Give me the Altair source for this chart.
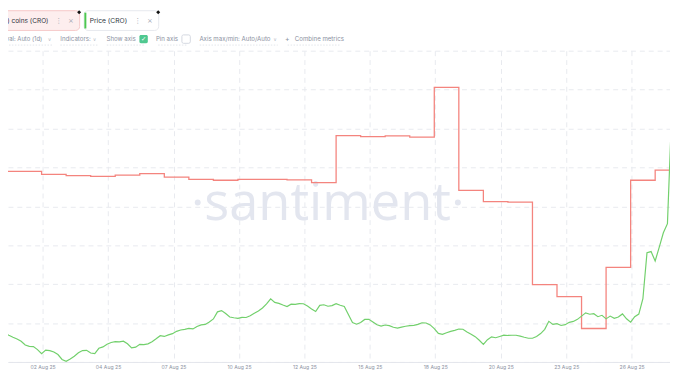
import altair as alt
import pandas as pd

# ---------------- data ----------------
# Price (CRO), 4-hourly samples starting 2025-07-31 08:00 UTC
PRICE_START = "2025-07-31 08:00"
price_cro = [
    0.1315, 0.1292, 0.1270, 0.1250, 0.1232, 0.1210, 0.1172, 0.1158, 0.1155, 0.1125,
    0.1084, 0.1120, 0.1115, 0.1100, 0.1075, 0.1025, 0.1007, 0.1030, 0.1058, 0.1092,
    0.1115, 0.1118, 0.1090, 0.1084, 0.1138, 0.1152, 0.1180, 0.1197, 0.1205, 0.1204,
    0.1210, 0.1184, 0.1142, 0.1150, 0.1178, 0.1175, 0.1183, 0.1204, 0.1234, 0.1266,
    0.1258, 0.1274, 0.1286, 0.1310, 0.1323, 0.1330, 0.1339, 0.1334, 0.1359, 0.1375,
    0.1380, 0.1405, 0.1435, 0.1507, 0.1520, 0.1490, 0.1455, 0.1447, 0.1441, 0.1451,
    0.1450, 0.1468, 0.1492, 0.1516, 0.1546, 0.1587, 0.1638, 0.1603, 0.1593, 0.1576,
    0.1561, 0.1585, 0.1583, 0.1590, 0.1589, 0.1566, 0.1537, 0.1510, 0.1573, 0.1579,
    0.1564, 0.1570, 0.1590, 0.1574, 0.1561, 0.1480, 0.1398, 0.1382, 0.1400, 0.1430,
    0.1431, 0.1405, 0.1376, 0.1362, 0.1374, 0.1368, 0.1351, 0.1342, 0.1353, 0.1361,
    0.1367, 0.1370, 0.1380, 0.1396, 0.1394, 0.1375, 0.1337, 0.1289, 0.1280, 0.1296,
    0.1310, 0.1320, 0.1333, 0.1331, 0.1304, 0.1281, 0.1256, 0.1220, 0.1178, 0.1225,
    0.1254, 0.1245, 0.1258, 0.1271, 0.1268, 0.1270, 0.1270, 0.1261, 0.1250, 0.1240,
    0.1240, 0.1258, 0.1287, 0.1330, 0.1411, 0.1380, 0.1388, 0.1369, 0.1377, 0.1401,
    0.1410, 0.1431, 0.1464, 0.1497, 0.1483, 0.1488, 0.1458, 0.1472, 0.1436, 0.1464,
    0.1442, 0.1455, 0.1486, 0.1437, 0.1402, 0.1458, 0.1484, 0.1640, 0.2105, 0.2117,
    0.2022, 0.2162, 0.2307, 0.2400, 0.3490,
]

# Holders metric (coins), daily from 2025-07-31
HOLD_START = "2025-07-31"
holder_coins = [
    4.90, 4.90, 4.82, 4.79, 4.77, 4.80, 4.84, 4.75, 4.69, 4.67,
    4.69, 4.69, 4.68, 4.61, 5.82, 5.79, 5.81, 5.78, 7.06, 4.41,
    4.12, 4.11, 1.99, 1.68, 0.86, 2.43, 4.67, 4.93, 4.93,
]

# x-axis tick times (UTC); labels are formatted "%d %b %y"
tick_times = [
    "2025-08-02 01:00", "2025-08-04 17:00", "2025-08-07 09:00", "2025-08-10 01:00",
    "2025-08-12 17:00", "2025-08-15 09:00", "2025-08-18 01:00", "2025-08-20 17:00",
    "2025-08-23 09:00", "2025-08-26 01:00",
]
x_range = ["2025-07-31 15:09", "2025-08-27 14:30"]


def ms(ts):
    return int(pd.Timestamp(ts).value // 10**6)


price_df = pd.DataFrame({
    "t": (pd.date_range(PRICE_START, periods=len(price_cro), freq="4h").asi8 // 10**6).tolist(),
    "price": price_cro,
})
hold_df = pd.DataFrame({
    "t": (pd.date_range(HOLD_START, periods=len(holder_coins), freq="D").asi8 // 10**6).tolist(),
    "coins": holder_coins,
})

RED = "#f4847e"
GREEN = "#72d06c"
UI_FONT = "Inter"

x_scale = alt.Scale(type="utc", domain=[ms(v) for v in x_range], nice=False)
x_axis = alt.Axis(
    values=[ms(v) for v in tick_times],
    labelExpr="utcFormat(datum.value, '%d %b %y')",
    title=None,
    ticks=False,
    grid=True,
    gridDash=[5, 4],
    gridColor="#e8eaef",
    domainColor="#e4e6ec",
    labelColor="#8e94a3",
    labelFontSize=5.2,
    labelFont=UI_FONT,
    labelPadding=3,
)

one = pd.DataFrame({"_": [0]})


def txt(s, x, y, size, color, align="left", font=UI_FONT, baseline="middle", weight="normal"):
    return alt.Chart(one).mark_text(
        text=s, align=align, baseline=baseline, fontSize=size, color=color,
        font=font, fontWeight=weight,
    ).encode(x=alt.value(x), y=alt.value(y))


def box(x1, x2, y1, y2, fill, stroke=None, radius=0, sw=1):
    kw = dict(fill=fill, cornerRadius=radius)
    if stroke:
        kw.update(stroke=stroke, strokeWidth=sw)
    return alt.Chart(one).mark_rect(**kw).encode(
        x=alt.value(x1), x2=alt.value(x2), y=alt.value(y1), y2=alt.value(y2)
    )


def dotted(x1, x2, y):
    return alt.Chart(one).mark_rule(color="#dcdfe6", strokeDash=[1.5, 1.5], strokeWidth=0.8).encode(
        x=alt.value(x1), x2=alt.value(x2), y=alt.value(y)
    )


def dot(x, y, size, color, shape="circle"):
    return alt.Chart(one).mark_point(filled=True, size=size, color=color, shape=shape, opacity=1).encode(
        x=alt.value(x), y=alt.value(y)
    )


WM = "#e3e6ef"
watermark = [
    txt("santiment", 323.5, 171, 53, WM, align="center", font="Open Sans", baseline="alphabetic"),
    dot(192, 153.7, 36, WM),
    dot(455.3, 153.7, 36, WM),
]

red_line = alt.Chart(hold_df).mark_line(
    interpolate="step-after", color=RED, strokeWidth=1.3, clip=True
).encode(
    x=alt.X("t:T", scale=x_scale, axis=x_axis),
    y=alt.Y(
        "coins:Q",
        scale=alt.Scale(domain=[0, 8], nice=False, zero=False),
        axis=alt.Axis(
            values=list(range(9)), grid=True, labels=False, ticks=False, domain=False,
            title=None, gridDash=[5, 4], gridColor="#e8eaef",
        ),
    ),
)

green_line = alt.Chart(price_df).mark_line(color=GREEN, strokeWidth=1.2, clip=True).encode(
    x=alt.X("t:T", scale=x_scale, axis=x_axis),
    y=alt.Y("price:Q", scale=alt.Scale(domain=[0.1, 0.415], nice=False, zero=False), axis=None),
)

DARK = "#2f3542"
MUTED = "#a3a8b4"
ROW2 = "#8b91a1"
header = [
    # chip 1 (holders metric)
    box(-20, 72.5, -40.5, -20.5, "#fdeeee", "#f6c9c9", 4),
    txt("(100) coins (CRO)", 41, -30.5, 6.6, DARK, align="right"),
    txt("⋮", 51.3, -30.5, 7, MUTED, align="center", font="DejaVu Sans"),
    txt("×", 63.7, -30.5, 7, MUTED, align="center", font="DejaVu Sans"),
    # chip 2 (price)
    box(77, 152.5, -40.5, -20.5, "#ffffff", "#e7e9ee", 4),
    box(77.3, 79.3, -38.5, -22.5, "#4cc850"),
    txt("Price (CRO)", 82.7, -30.5, 6.8, DARK),
    txt("⋮", 131.3, -30.5, 7, MUTED, align="center", font="DejaVu Sans"),
    txt("×", 143.7, -30.5, 7, MUTED, align="center", font="DejaVu Sans"),
    # pins
    dot(72, -39, 16, "#111111", "diamond"),
    dot(152, -39, 16, "#111111", "diamond"),
    # row 2 controls
    txt("Interval: Auto (1d)", 34.7, -11.7, 6.0, ROW2, align="right"),
    txt("∨", 42, -11.7, 5, "#b5bac5", align="center", font="DejaVu Sans"),
    txt("Indicators:", 53, -11.7, 6.2, ROW2),
    txt("∨", 87.7, -11.7, 5, "#b5bac5", align="center", font="DejaVu Sans"),
    txt("Show axis", 99.7, -11.7, 6.2, ROW2),
    box(133, 141.5, -16, -7.5, "#4fc890", None, 1.5),
    txt("✓", 137.25, -11.5, 6.5, "#ffffff", align="center", font="DejaVu Sans"),
    txt("Pin axis", 149.7, -11.7, 6.2, ROW2),
    box(176, 184.5, -16, -7.5, "#ffffff", "#d3d7df", 1.5),
    txt("Axis max/min: Auto/Auto", 193.7, -11.7, 6.2, ROW2),
    txt("∨", 270.3, -11.7, 5, "#b5bac5", align="center", font="DejaVu Sans"),
    txt("+", 282.7, -11.7, 7, ROW2, align="center"),
    txt("Combine metrics", 290.3, -11.7, 6.2, ROW2),
    dotted(-8, 45, -5.7),
    dotted(53, 91.6, -5.7),
    dotted(100, 139, -5.7),
    dotted(152, 182, -5.7),
    dotted(194, 273, -5.7),
    dotted(283, 337, -5.7),
]

chart = alt.layer(*watermark, red_line, green_line, *header).resolve_scale(
    y="independent"
).properties(
    width=670,
    height=315,
    autosize=alt.AutoSizeParams(type="none"),
    padding={"left": 0, "top": 41, "right": 0, "bottom": 12},
    background="#ffffff",
).configure_view(stroke=None)

chart.save("out.html", embed_options={"renderer": "svg", "actions": False})
